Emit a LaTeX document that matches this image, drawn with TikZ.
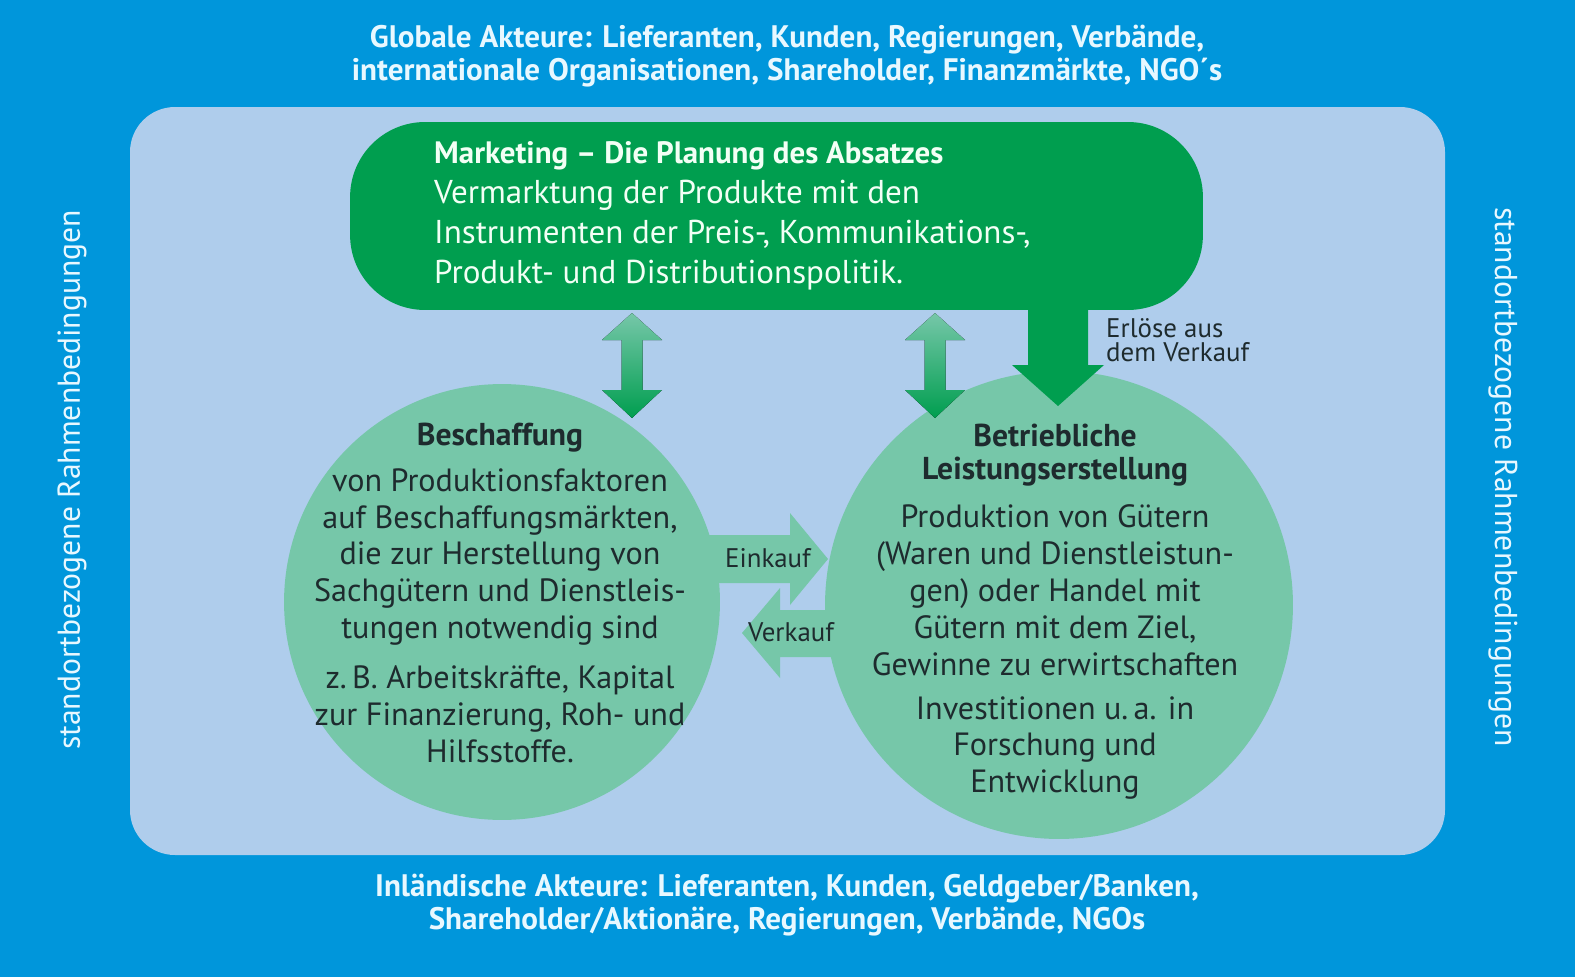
\documentclass[tikz,border=0pt]{standalone}
\usepackage{fontspec}
\setmainfont{PT Sans}
\usetikzlibrary{calc}

\definecolor{outerblue}{HTML}{0096DB}
\definecolor{innerblue}{HTML}{AFCDEC}
\definecolor{dkgreen}{HTML}{009E4F}
\definecolor{ltgreen}{HTML}{76C7A9}
\definecolor{titlecol}{HTML}{E8F8FF}
\definecolor{bodytext}{HTML}{1E2B2E}
\definecolor{mkttext}{HTML}{F2FFF5}

\tikzset{
  titletext/.style={text=titlecol, font=\fontsize{17.7}{18.7}\selectfont\bfseries, align=center},
  sidetext/.style={text=titlecol, font=\fontsize{18}{19}\selectfont},
  bodytxt/.style={text=bodytext, font=\fontsize{18.3}{21}\selectfont, align=center},
  headtxt/.style={text=bodytext, font=\fontsize{18}{19}\selectfont\bfseries, align=center},
  smalltxt/.style={text=bodytext, font=\fontsize{15.3}{13.6}\selectfont},
  areabox/.style={circle, fill=ltgreen, inner sep=0pt},
  fatshade/.style={top color=ltgreen, bottom color=dkgreen}
}

\begin{document}
\begin{tikzpicture}[x=0.02cm, y=-0.02cm]
  \useasboundingbox (0,0) rectangle (1575,977);
  \fill[outerblue] (0,0) rectangle (1575,977);
  \fill[innerblue, rounded corners=0.9cm] (130,107) rectangle (1445,855);

  % Akteure und Rahmen
  \node[titletext] (global) at (787,56)
    {Globale Akteure: Lieferanten, Kunden, Regierungen, Verbände,\\
     internationale Organisationen, Shareholder, Finanzmärkte, NGO´s};
  \node[titletext] (inland) at (787,905)
    {Inländische Akteure: Lieferanten, Kunden, Geldgeber/Banken,\\
     Shareholder/Aktionäre, Regierungen, Verbände, NGOs};
  \node[sidetext, rotate=90] (rahmenL) at (72,480) {standortbezogene Rahmenbedingungen};
  \node[sidetext, rotate=-90] (rahmenR) at (1503,477) {standortbezogene Rahmenbedingungen};

  % Bereiche
  \node[areabox, minimum size=8.72cm] (besch) at (502,602) {};
  \node[areabox, minimum size=9.36cm] (leist) at (1059,605) {};

  % Einkauf / Verkauf
  \coordinate (einTip) at (828,559);
  \coordinate (verTip) at (742,633);
  \fill[ltgreen] (einTip) -- ++(-38,-46) -- ++(0,22) -- ++(-100,0) -- ++(0,48)
    -- ++(100,0) -- ++(0,22) -- cycle;
  \fill[ltgreen] (verTip) -- ++(38,-45) -- ++(0,22) -- ++(100,0) -- ++(0,47)
    -- ++(-100,0) -- ++(0,21) -- cycle;

  % Marketing
  \node[fill=dkgreen, rounded corners=1.5cm, minimum width=17.06cm,
        minimum height=3.76cm] (mkt) at (776.5,216) {};
  \coordinate (erlTip) at (1058,406);
  \fill[dkgreen] (erlTip) -- ++(46,-41) -- ++(-16,0) -- ++(0,-75) -- ++(-60,0)
    -- ++(0,75) -- ++(-16,0) -- cycle;

  % Doppelpfeile
  \coordinate (dblA) at (632,313);
  \coordinate (dblB) at (935,313);
  \foreach \c in {dblA,dblB}
    \fill[fatshade] (\c) -- ++(30,27) -- ++(-19.5,0) -- ++(0,50) -- ++(19.5,0)
      -- ++(-30,28) -- ++(-30,-28) -- ++(19.5,0) -- ++(0,-50) -- ++(-19.5,0) -- cycle;

  % Texte
  \node[anchor=west, align=left, text=mkttext, font=\fontsize{18.8}{22.7}\selectfont]
    (mkttxt) at (428,216)
    {{\fontsize{17.6}{22.7}\selectfont\bfseries Marketing – Die Planung des Absatzes}\\
     Vermarktung der Produkte mit den\\
     Instrumenten der Preis-, Kommunikations-,\\
     Produkt- und Distributionspolitik.};
  \node[smalltxt, anchor=west, align=left] (erl) at (1100,340) {Erlöse aus\\dem Verkauf};
  \node[smalltxt] (ein) at (768,558) {Einkauf};
  \node[smalltxt] (ver) at (791,632) {Verkauf};

  \node[headtxt] (beschH) at (500,438) {Beschaffung};
  \node[bodytxt] (beschA) at (500,557)
    {von Produktionsfaktoren\\ auf Beschaffungsmärkten,\\ die zur Herstellung von\\
     Sachgütern und Dienstleis-\\ tungen notwendig sind};
  \node[bodytxt] (beschB) at (500,714)
    {z.\,B. Arbeitskräfte, Kapital\\ zur Finanzierung, Roh- und\\ Hilfsstoffe.};

  \node[headtxt] (leistH) at (1055,455) {Betriebliche\\Leistungserstellung};
  \node[bodytxt] (leistA) at (1055,590)
    {Produktion von Gütern\\ (Waren und Dienstleistun-\\ gen) oder Handel mit\\
     Gütern mit dem Ziel,\\ Gewinne zu erwirtschaften};
  \node[bodytxt] (leistB) at (1055,748)
    {Investitionen u.\,a. in\\ Forschung und\\ Entwicklung};
\end{tikzpicture}
\end{document}
